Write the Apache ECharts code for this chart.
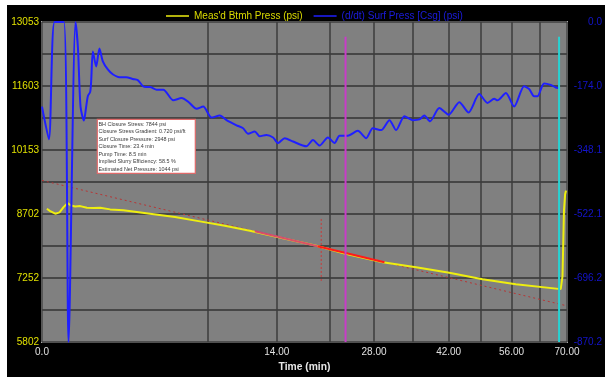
<!DOCTYPE html>
<html><head><meta charset="utf-8">
<script src="https://cdn.jsdelivr.net/npm/echarts@6/dist/echarts.min.js"></script>
<style>
html,body{margin:0;padding:0;background:#fff;width:605px;height:381px;overflow:hidden}
#c{position:absolute;left:7px;top:5px;width:598px;height:372px}
</style></head>
<body><div id="c"></div>
<script>
// ---- data ----
const timeTickLabels = [0, 14, 28, 42, 56, 70];
const timeGridLines = [0, 7, 14, 21, 28, 35, 42, 49, 56, 63, 70];
const leftTickLabels = [5802, 7252, 8702, 10153, 11603, 13053];
const leftGridLines = [5802, 6527.1, 7252.2, 7977.3, 8702.4, 9427.5, 10152.6, 10877.7, 11602.8, 12327.9, 13053];
const rightTickLabels = [-870.2, -696.2, -522.1, -348.1, -174.0, 0.0];

const yellowTime = [0.006,0.017,0.045,0.078,0.118,0.166,0.213,0.280,0.371,0.512,0.673,0.859,1.18,1.68,2.28,2.96,4.49,6.33,8.49,10.97,14.75,19.11,23.40,29.49,35.54,42.13,49.28,57.02,68.33,68.81,69.20,69.50,69.74];
const yellowPress = [8821,8769,8709,8740,8858,8948,8896,8874,8881,8843,8836,8843,8807,8785,8747,8709,8635,8535,8435,8323,8151,7982,7803,7609,7498,7370,7223,7112,7000,7297,8790,9150,9232];

const blueTime = [0,0.012,0.040,0.122,0.179,0.285,0.328,0.377,0.446,0.496,0.535,0.590,0.614,0.657,0.745,0.838,0.940,1.10,1.27,1.52,1.80,2.09,2.33,2.58,2.75,2.96,3.34,3.74,4.38,4.95,5.43,6.07,6.60,7.30,8.03,8.65,9.61,10.27,10.79,11.50,12.04,12.79,13.56,14.15,14.96,16.00,17.75,18.64,19.57,20.76,21.74,22.49,23.76,25.33,26.69,27.79,29.21,30.66,31.85,33.36,34.90,36.17,37.13,38.24,40.09,41.99,44.22,46.21,48.55,50.41,51.93,52.69,54.65,56.61,59.03,60.26,61.50,62.33,64.02,65.73,67.02,67.89];
const blueRate = [-230,-319,0,0,-870.2,0,-70,-230,-268,-230,-201,-190,-161,-80,-121,-72,-107,-129,-142,-150,-150,-155,-158,-174,-177,-177,-184,-184,-213,-207,-217,-236,-230,-260,-254,-267,-281,-289,-304,-298,-311,-307,-314,-329,-316,-325,-338,-321,-336,-314,-329,-309,-309,-296,-316,-289,-294,-267,-294,-256,-267,-265,-254,-270,-234,-252,-218,-246,-196,-220,-209,-213,-193,-230,-175,-182,-202,-202,-167,-171,-178,-180];

const fitTime = [0, 70];
const fitPress = [9463, 6621];
const fitSolidATime = [11.5, 19.29];
const fitSolidAPress = [8312, 7973];
const fitSolidBTime = [19.29, 29.78];
const fitSolidBPress = [7973, 7609];
const markerTime = [19.8, 19.8];
const markerPress = [7185, 8635];
const closureTime = [23.4, 23.4];
const closureSpan = [5802, 12718];
const endTime = [67.9, 67.9];
const endSpan = [5802, 12718];

const notes = [
  'BH Closure Stress: 7844 psi',
  'Closure Stress Gradient: 0.720 psi/ft',
  'Surf Closure Pressure: 2948 psi',
  'Closure Time: 23.4 min',
  'Pump Time: 8.5 min',
  'Implied Slurry Efficiency: 58.5 %',
  'Estimated Net Pressure: 1044 psi'
];

// ---- helpers ----
const sx = t => Math.sqrt(t);
const pairs = (ts, vs) => ts.map((t, i) => [sx(t), vs[i]]);
const FONT = 'Liberation Sans, Arial, sans-serif';

const chart = echarts.init(document.getElementById('c'));
const simple = (name, ts, vs, color, width, type, yIdx, z) => ({
  name, type: 'line', data: pairs(ts, vs), yAxisIndex: yIdx || 0,
  showSymbol: false, symbol: 'none', silent: true, z: z || 2,
  lineStyle: { color, width, type: type || 'solid' }, itemStyle: { color }
});

chart.setOption({
  backgroundColor: '#000000',
  animation: false,
  textStyle: { fontFamily: FONT },
  legend: {
    left: 154, top: 1, icon: 'rect', itemWidth: 23, itemHeight: 1.5, itemGap: 11,
    textStyle: { fontSize: 10, fontFamily: FONT },
    data: [
      { name: "Meas'd Btmh Press (psi)", textStyle: { color: '#dcdc00' } },
      { name: '(d/dt) Surf Press [Csg] (psi)', textStyle: { color: '#1c1ce0' } }
    ]
  },
  grid: {
    left: 35, right: 37, top: 17, bottom: 30, show: true,
    backgroundColor: '#808080', borderColor: '#a8a8a8', borderWidth: 2
  },
  xAxis: {
    type: 'value', min: 0, max: sx(70),
    name: 'Time (min)', nameLocation: 'middle', nameGap: 20,
    nameTextStyle: { color: '#e6e6e6', fontSize: 10.3, fontWeight: 'bold', fontFamily: FONT },
    axisLine: { show: false },
    axisTick: { show: false, customValues: timeGridLines.map(sx) },
    splitLine: { show: true, lineStyle: { color: '#3c3c3c', width: 1.5 } },
    axisLabel: {
      customValues: timeTickLabels.map(sx), color: '#e0e0e0', fontSize: 10, margin: 5,
      formatter: v => { const t = Math.round(v * v * 100) / 100; return t === 0 ? '0.0' : t.toFixed(2); }
    }
  },
  yAxis: [
    {
      type: 'value', min: 5802, max: 13053, position: 'left',
      axisLine: { show: false },
      axisTick: { show: false, customValues: leftGridLines },
      splitLine: { show: true, lineStyle: { color: '#333333', width: 1.5 } },
      axisLabel: { customValues: leftTickLabels, color: '#e0e000', fontSize: 10, margin: 3,
        formatter: v => String(Math.round(v)) }
    },
    {
      type: 'value', min: -870.2, max: 0, position: 'right',
      axisLine: { show: false },
      axisTick: { show: false, customValues: rightTickLabels },
      splitLine: { show: false },
      axisLabel: { customValues: rightTickLabels, color: '#1414cc', fontSize: 10, margin: 35, align: 'right',
        formatter: v => v.toFixed(1) }
    }
  ],
  series: [
    simple('fit', fitTime, fitPress, '#b83434', 1, [2, 3], 0, 2),
    simple('marker', markerTime, markerPress, '#c83a3a', 1, [2, 2], 0, 2),
    simple("Meas'd Btmh Press (psi)", yellowTime, yellowPress, '#eeee10', 2, 'solid', 0, 3),
    simple('fitA', fitSolidATime, fitSolidAPress, 'rgba(214,52,120,0.85)', 2, 'solid', 0, 4),
    simple('fitB', fitSolidBTime, fitSolidBPress, '#ff1a1a', 2, 'solid', 0, 4),
    Object.assign(simple('(d/dt) Surf Press [Csg] (psi)', blueTime, blueRate, '#1f1fff', 2, 'solid', 1, 5), { smooth: 0.25 }),
    simple('closure', closureTime, closureSpan, '#c83cc8', 2, 'solid', 0, 6),
    simple('end', endTime, endSpan, '#28d2d2', 2, 'solid', 0, 6)
  ],
  graphic: [
    { type: 'rect', shape: { x: 90.3, y: 114.3, width: 98, height: 54 }, z: 100,
      style: { fill: '#ffffff', stroke: '#e06a6a', lineWidth: 1.2 } },
    { type: 'text', x: 91.5, y: 115.6, z: 101,
      style: { text: notes.join('\n'), fontSize: 5.4, fontFamily: FONT, lineHeight: 7.45,
        fill: '#3a3a3a', verticalAlign: 'top', align: 'left' } }
  ]
});
</script></body></html>
